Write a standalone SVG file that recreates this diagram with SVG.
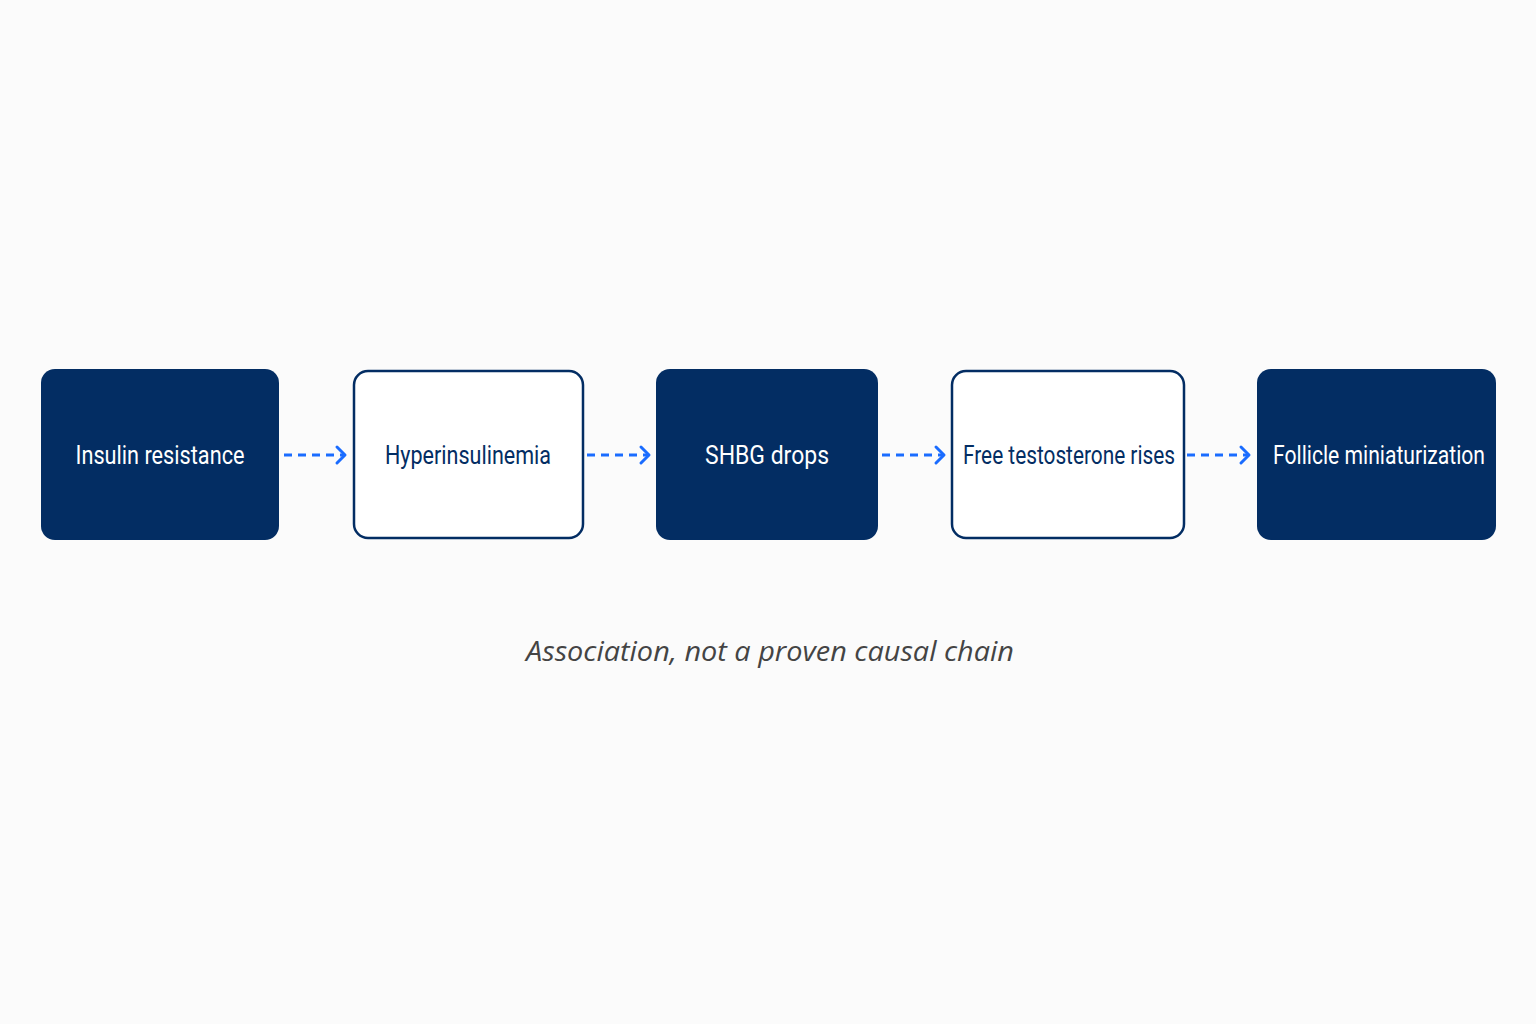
<svg xmlns="http://www.w3.org/2000/svg" width="1536" height="1024" viewBox="0 0 1536 1024">
<style>
.dark{fill:#032d63}
.light{fill:#fff;stroke:#032d63;stroke-width:2.5}
.t{font-family:"Roboto","Liberation Sans",sans-serif;font-size:26px;text-anchor:middle}
.tw{fill:#fff}
.tb{fill:#032d63}
.c{stroke:#1a6cff;stroke-width:3;stroke-dasharray:8 6;fill:none}
.h{stroke:#1a6cff;stroke-width:3;fill:none;stroke-linecap:round;stroke-linejoin:round}
</style>
<rect width="1536" height="1024" fill="#fbfbfb"/>
<g id="n1"><rect class="dark" x="41" y="369" width="238" height="171" rx="14"/><text class="t tw" x="160" y="464" textLength="169" lengthAdjust="spacingAndGlyphs">Insulin resistance</text></g>
<g id="n2"><rect class="light" x="354" y="371" width="229" height="167" rx="14"/><text class="t tb" x="468" y="464" textLength="166" lengthAdjust="spacingAndGlyphs">Hyperinsulinemia</text></g>
<g id="n3"><rect class="dark" x="656" y="369" width="222" height="171" rx="14"/><text class="t tw" x="767" y="464" textLength="124" lengthAdjust="spacingAndGlyphs">SHBG drops</text></g>
<g id="n4"><rect class="light" x="952" y="371" width="232" height="167" rx="14"/><text class="t tb" x="1069" y="464" textLength="212" lengthAdjust="spacingAndGlyphs">Free testosterone rises</text></g>
<g id="n5"><rect class="dark" x="1257" y="369" width="239" height="171" rx="14"/><text class="t tw" x="1379" y="464" textLength="212" lengthAdjust="spacingAndGlyphs">Follicle miniaturization</text></g>
<g id="connectors">
<path class="c" d="M284 455H343"/><path class="h" d="M337 447L345 455L337 463"/>
<path class="c" d="M587 455H647"/><path class="h" d="M641 447L649 455L641 463"/>
<path class="c" d="M882 455H942"/><path class="h" d="M936 447L944 455L936 463"/>
<path class="c" d="M1187 455H1247"/><path class="h" d="M1241 447L1249 455L1241 463"/>
</g>
<text x="770" y="661" font-family="'Open Sans','Liberation Sans',sans-serif" font-style="italic" font-size="27" fill="#444" text-anchor="middle" textLength="488" lengthAdjust="spacingAndGlyphs">Association, not a proven causal chain</text>
</svg>
